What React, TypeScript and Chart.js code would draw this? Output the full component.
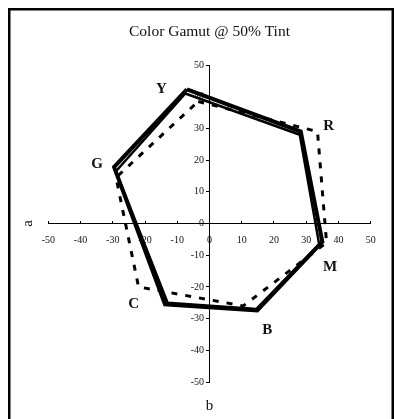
import { useEffect, useRef } from 'react';
import { Chart, registerables } from 'chart.js';

Chart.register(...registerables);

// Hue-corner names, in drawing order around the gamut
const vertexNames = ['Y', 'R', 'M', 'B', 'C', 'G'];

// Solid gamut (b on the horizontal axis, a on the vertical axis)
const solidB = [-7.5, 28, 34, 14.5, -13, -29];
const solidA = [41, 28, -6.5, -27, -25, 16.5];

// Outlined (double-line) gamut
const doubleB = [-7, 28.3, 35, 14.8, -13.8, -29.6];
const doubleA = [42.3, 29, -5.8, -27.4, -25.5, 17.8];

// Dashed gamut
const dashedB = [-3.5, 33.5, 36.3, 10.5, -22, -29];
const dashedA = [38.5, 29, -6, -26, -20, 14.5];

const axisMin = -50;
const axisMax = 50;
const axisStep = 10;

const titleText = 'Color Gamut @ 50% Tint';
const horizontalTitle = 'b';
const verticalTitle = 'a';

const SERIF = "'Liberation Serif', 'Times New Roman', serif";

// pixel nudges for the corner names, relative to the solid gamut's corners
const labelOffsets = [
  [-24, -4],
  [29, -9],
  [11, 23],
  [11, 21],
  [-34, 1],
  [-19, -7],
];

function closedPath(bs: number[], as: number[]) {
  const pts = bs.map((b, i) => ({ x: b, y: as[i] }));
  pts.push({ ...pts[0] });
  return pts;
}

// white page with the heavy frame around the whole chart
const framePlugin = {
  id: 'chartFrame',
  beforeDraw(chart: any) {
    const { ctx, width, height } = chart;
    ctx.save();
    ctx.fillStyle = '#fff';
    ctx.fillRect(0, 0, width, height);
    ctx.strokeStyle = '#000';
    ctx.lineWidth = 2.5;
    ctx.strokeRect(9.25, 9.25, width - 10.5, height + 10);
    ctx.restore();
  },
};

const annotationPlugin = {
  id: 'gamutAnnotations',
  afterDatasetsDraw(chart: any) {
    const { ctx, scales, chartArea } = chart;
    const xs = scales.x;
    const ys = scales.y;
    ctx.save();
    ctx.fillStyle = '#111';
    ctx.textAlign = 'center';
    ctx.textBaseline = 'middle';
    ctx.font = `bold 15px ${SERIF}`;
    vertexNames.forEach((name, i) => {
      const px = xs.getPixelForValue(solidB[i]) + labelOffsets[i][0];
      const py = ys.getPixelForValue(solidA[i]) + labelOffsets[i][1];
      ctx.fillText(name, px, py);
    });

    // axis titles
    ctx.font = `15px ${SERIF}`;
    const midX = (chartArea.left + chartArea.right) / 2;
    const midY = (chartArea.top + chartArea.bottom) / 2;
    ctx.fillText(horizontalTitle, midX, chartArea.bottom + 24.5);
    ctx.translate(chartArea.left - 20, midY);
    ctx.rotate(-Math.PI / 2);
    ctx.fillText(verticalTitle, 0, 0);
    ctx.restore();
  },
};

export default function App() {
  const canvasRef = useRef<HTMLCanvasElement | null>(null);

  useEffect(() => {
    const canvas = canvasRef.current;
    if (!canvas) return;

    const tickFont = { family: SERIF, size: 10 };

    const chart = new Chart(canvas, {
      type: 'scatter',
      data: {
        datasets: [
          {
            label: 'outline',
            data: closedPath(doubleB, doubleA),
            showLine: true,
            borderColor: '#000',
            borderWidth: 4,
            pointRadius: 0,
            borderJoinStyle: 'miter',
          },
          {
            label: 'outline-inner',
            data: closedPath(doubleB, doubleA),
            showLine: true,
            borderColor: '#fff',
            borderWidth: 1.5,
            pointRadius: 0,
            borderJoinStyle: 'miter',
          },
          {
            label: 'solid',
            data: closedPath(solidB, solidA),
            showLine: true,
            borderColor: '#000',
            borderWidth: 2.5,
            pointRadius: 0,
            borderJoinStyle: 'miter',
          },
          {
            label: 'dashed',
            data: closedPath(dashedB, dashedA),
            showLine: true,
            borderColor: '#000',
            borderWidth: 3,
            borderDash: [6, 8],
            pointRadius: 0,
          },
        ],
      },
      options: {
        responsive: false,
        animation: false,
        events: [],
        layout: { padding: { left: 48.3, right: 23.3, top: 0, bottom: 37 } },
        plugins: {
          legend: { display: false },
          tooltip: { enabled: false },
          title: {
            display: true,
            text: titleText,
            color: '#111',
            font: { family: SERIF, size: 15.5, weight: 'normal' },
            padding: { top: 22.2, bottom: 24.2 },
          },
        },
        scales: {
          x: {
            type: 'linear',
            position: { y: 0 },
            min: axisMin,
            max: axisMax,
            ticks: {
              stepSize: axisStep,
              font: tickFont,
              color: '#111',
              padding: 13.5,
              maxRotation: 0,
              autoSkip: false,
            },
            grid: { drawOnChartArea: false, tickLength: -3, color: '#000' },
            border: { color: '#000', width: 1 },
          },
          y: {
            type: 'linear',
            position: 'center',
            min: axisMin,
            max: axisMax,
            ticks: {
              stepSize: axisStep,
              font: tickFont,
              color: '#111',
              padding: 2.5,
              autoSkip: false,
            },
            grid: { drawOnChartArea: false, tickLength: 3, color: '#000' },
            border: { color: '#000', width: 1 },
          },
        },
      },
      plugins: [framePlugin, annotationPlugin],
    } as any);

    return () => chart.destroy();
  }, []);

  return (
    <canvas
      ref={canvasRef}
      width={394}
      height={419}
      style={{ display: 'block', position: 'absolute', left: 0, top: 0 }}
    />
  );
}
